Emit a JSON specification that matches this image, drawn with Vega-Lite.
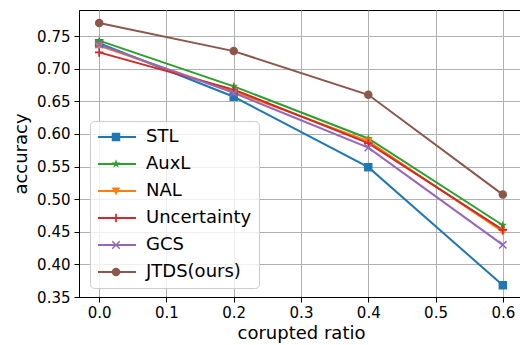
{
  "$schema": "https://vega.github.io/schema/vega-lite/v6.json",
  "width": 444,
  "height": 287,
  "autosize": "none",
  "padding": {"left": 79, "top": 10, "right": -3, "bottom": 48},
  "background": "white",
  "config": {
    "font": "DejaVu Sans",
    "view": {"stroke": "black", "strokeWidth": 1},
    "axis": {
      "labelFont": "DejaVu Sans", "titleFont": "DejaVu Sans",
      "labelFontSize": 15, "titleFontSize": 18, "titleFontWeight": "normal",
      "labelColor": "black", "titleColor": "black",
      "domainColor": "black", "tickColor": "black", "tickSize": 5,
      "gridColor": "#b0b0b0", "gridWidth": 1, "gridOpacity": 1
    },
    "legend": {"labelFont": "DejaVu Sans", "labelFontSize": 18, "rowPadding": 9, "padding": 7, "clipHeight": 18}
  },
  "data": {
    "values": [
      {"method": "STL", "ratio": 0.0, "acc": 0.739},
      {"method": "STL", "ratio": 0.2, "acc": 0.657},
      {"method": "STL", "ratio": 0.4, "acc": 0.549},
      {"method": "STL", "ratio": 0.6, "acc": 0.368},
      {"method": "AuxL", "ratio": 0.0, "acc": 0.743},
      {"method": "AuxL", "ratio": 0.2, "acc": 0.673},
      {"method": "AuxL", "ratio": 0.4, "acc": 0.593},
      {"method": "AuxL", "ratio": 0.6, "acc": 0.460},
      {"method": "NAL", "ratio": 0.0, "acc": 0.735},
      {"method": "NAL", "ratio": 0.2, "acc": 0.665},
      {"method": "NAL", "ratio": 0.4, "acc": 0.589},
      {"method": "NAL", "ratio": 0.6, "acc": 0.450},
      {"method": "Uncertainty", "ratio": 0.0, "acc": 0.725},
      {"method": "Uncertainty", "ratio": 0.2, "acc": 0.668},
      {"method": "Uncertainty", "ratio": 0.4, "acc": 0.586},
      {"method": "Uncertainty", "ratio": 0.6, "acc": 0.453},
      {"method": "GCS", "ratio": 0.0, "acc": 0.737},
      {"method": "GCS", "ratio": 0.2, "acc": 0.663},
      {"method": "GCS", "ratio": 0.4, "acc": 0.579},
      {"method": "GCS", "ratio": 0.6, "acc": 0.430},
      {"method": "JTDS(ours)", "ratio": 0.0, "acc": 0.770},
      {"method": "JTDS(ours)", "ratio": 0.2, "acc": 0.727},
      {"method": "JTDS(ours)", "ratio": 0.4, "acc": 0.660},
      {"method": "JTDS(ours)", "ratio": 0.6, "acc": 0.507}
    ]
  },
  "encoding": {
    "x": {
      "field": "ratio", "type": "quantitative",
      "scale": {"domain": [-0.03, 0.63], "nice": false, "zero": false},
      "axis": {"values": [0, 0.1, 0.2, 0.3, 0.4, 0.5, 0.6], "format": ".1f", "title": "corupted ratio", "labelPadding": 3, "titlePadding": 4, "labelFlush": false}
    },
    "y": {
      "field": "acc", "type": "quantitative",
      "scale": {"domain": [0.35, 0.79], "nice": false, "zero": false},
      "axis": {"values": [0.35, 0.4, 0.45, 0.5, 0.55, 0.6, 0.65, 0.7, 0.75], "format": ".2f", "title": "accuracy", "labelPadding": 4, "titlePadding": 6, "labelFlush": false}
    }
  },
  "layer": [
    {
      "mark": {"type": "line", "strokeWidth": 2},
      "encoding": {
        "color": {
          "field": "method", "type": "nominal",
          "scale": {
            "domain": ["STL", "AuxL", "NAL", "Uncertainty", "GCS", "JTDS(ours)"],
            "range": ["#1f77b4", "#2ca02c", "#ff7f0e", "#d62728", "#9467bd", "#8c564b"]
          },
          "legend": {
            "title": null,
            "orient": "none",
            "legendX": 11,
            "legendY": 111,
            "labelColor": "black",
            "symbolType": "M-3.8,0H3.8",
            "symbolSize": 100,
            "symbolStrokeWidth": 2,
            "symbolOffset": 11,
            "labelOffset": 20,
            "fillColor": "rgba(255,255,255,0.8)",
            "strokeColor": "#cccccc",
            "cornerRadius": 4,
            "zindex": 0
          }
        }
      }
    },
    {
      "mark": {"type": "point", "filled": true, "opacity": 1, "size": 72},
      "encoding": {
        "color": {
          "field": "method", "type": "nominal",
          "legend": {
            "title": null,
            "orient": "none",
            "legendX": 11,
            "legendY": 111,
            "labelExpr": "''",
            "symbolSize": 72,
            "symbolOffset": 10,
            "symbolOpacity": 1,
            "zindex": 1
          }
        },
        "shape": {
          "field": "method", "type": "nominal",
          "scale": {
            "domain": ["STL", "AuxL", "NAL", "Uncertainty", "GCS", "JTDS(ours)"],
            "range": [
              "M-1,-1H1V1H-1Z",
              "M0,-1.1L0.248,-0.34L1.046,-0.34L0.4,0.13L0.647,0.89L0,0.42L-0.647,0.89L-0.4,0.13L-1.046,-0.34L-0.248,-0.34Z",
              "M-1,-0.8H1L0,1Z",
              "M-1,-0.2H-0.2V-1H0.2V-0.2H1V0.2H0.2V1H-0.2V0.2H-1Z",
              "M0,-0.25L0.75,-1L1,-0.75L0.25,0L1,0.75L0.75,1L0,0.25L-0.75,1L-1,0.75L-0.25,0L-1,-0.75L-0.75,-1Z",
              "circle"
            ]
          },
          "legend": null
        }
      }
    }
  ],
  "resolve": {"legend": {"color": "independent", "shape": "independent"}}
}
